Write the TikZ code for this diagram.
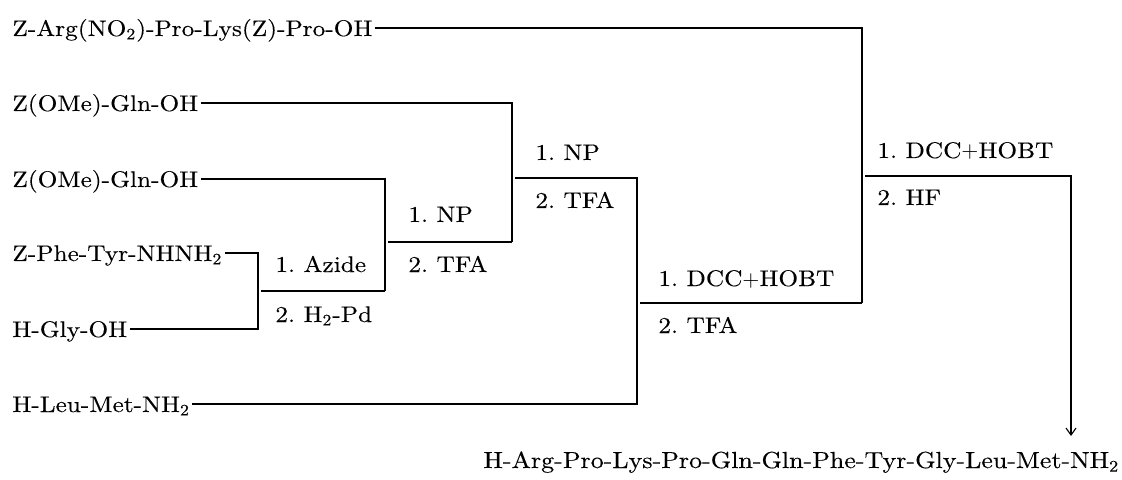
\documentclass[tikz,border=0pt]{standalone}
\usepackage{fontspec}
\setmainfont{lmroman10-regular.otf}[FakeStretch=1.12,FakeBold=0.25]
\usetikzlibrary{arrows.meta}
\frenchspacing
\begin{document}
\begin{tikzpicture}[x=0.5pt,y=-0.5pt,
  txt/.style={inner sep=1pt, anchor=base west, font=\fontsize{11.3}{13}\selectfont\frenchspacing},
  ln/.style={line width=0.55pt, black},
  tip/.style={-{Straight Barb[length=3.5pt,width=5pt]}}]
\useasboundingbox (0,0) rectangle (1122,480);
% starting materials
\node[txt] (arg)  at (10,36)  {Z-Arg(NO\textsubscript{2})-Pro-Lys(Z)-Pro-OH};
\node[txt] (gln1) at (10,111) {Z(OMe)-Gln-OH};
\node[txt] (gln2) at (10,187) {Z(OMe)-Gln-OH};
\node[txt] (phe)  at (10,261) {Z-Phe-Tyr-NHNH\textsubscript{2}};
\node[txt] (gly)  at (10,337) {H-Gly-OH};
\node[txt] (leu)  at (10,412) {H-Leu-Met-NH\textsubscript{2}};
% reagents
\node[txt] (az1)  at (273,272) {1. Azide};
\node[txt] (az2)  at (273,322) {2. H\textsubscript{2}-Pd};
\node[txt] (npa1) at (406,222) {1. NP};
\node[txt] (npa2) at (406,272) {2. TFA};
\node[txt] (npb1) at (533,160) {1. NP};
\node[txt] (npb2) at (533,208) {2. TFA};
\node[txt] (dca1) at (656,286) {1. DCC$+$HOBT};
\node[txt] (dca2) at (656,333) {2. TFA};
\node[txt] (dcb1) at (875,158) {1. DCC$+$HOBT};
\node[txt] (dcb2) at (875,205) {2. HF};
% product
\node[txt, inner sep=1.5pt, font=\fontsize{11.6}{13}\selectfont] (prod) at (480,468) {H-Arg-Pro-Lys-Pro-Gln-Gln-Phe-Tyr-Gly-Leu-Met-NH\textsubscript{2}};
% junctions
\coordinate (a1) at (862,28);  \coordinate (a2) at (862,303);
\coordinate (b1) at (512,103); \coordinate (b2) at (512,242);
\coordinate (c1) at (385,179); \coordinate (c2) at (385,291);
\coordinate (d1) at (258,253); \coordinate (d2) at (258,329);
\coordinate (e)  at (261,291);
\coordinate (f)  at (388,242);
\coordinate (g)  at (515,178); \coordinate (h) at (637,178); \coordinate (i) at (637,404);
\coordinate (j)  at (640,303);
\coordinate (k)  at (865,176); \coordinate (l) at (1071,176);
% connectors
\draw[ln] (arg.east |- a1) -- (a1) -- (a2);
\draw[ln] (gln1.east |- b1) -- (b1) -- (b2);
\draw[ln] (gln2.east |- c1) -- (c1) -- (c2);
\draw[ln] (phe.east |- d1) -- (d1) -- (d2) -- (gly.east |- d2);
\draw[ln] (e) -- (c2);
\draw[ln] (f) -- (b2);
\draw[ln] (g) -- (h) -- (i) -- (leu.east |- i);
\draw[ln] (j) -- (a2);
\draw[ln,tip,shorten >=6pt] (k) -- (l) -- (l |- prod.north);
\end{tikzpicture}
\end{document}
